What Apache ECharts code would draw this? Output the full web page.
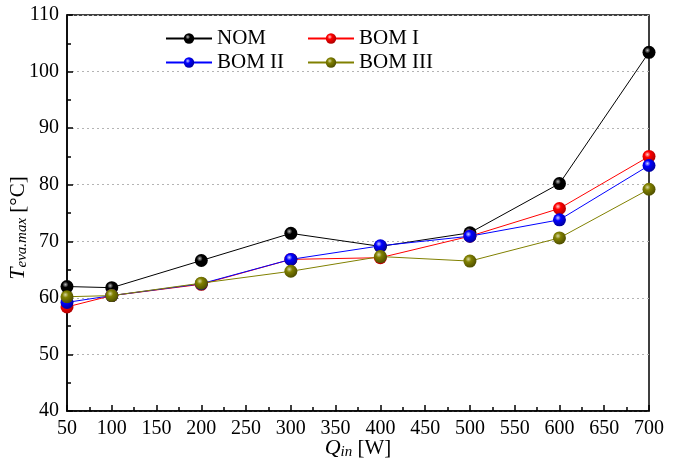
<!DOCTYPE html>
<html>
<head>
<meta charset="utf-8">
<script src="https://cdn.jsdelivr.net/npm/echarts@6/dist/echarts.min.js"></script>
<style>
  html, body { margin: 0; padding: 0; background: #fff; }
  #chart { width: 680px; height: 462px; }
</style>
</head>
<body>
<div id="chart"></div>
<script>
// Teva,max vs Qin
var qin = [50, 100, 200, 300, 400, 500, 600, 700];
var nom = [62.0, 61.8, 66.6, 71.4, 69.1, 71.5, 80.2, 103.4];
var bom1 = [58.4, 60.4, 62.4, 66.8, 67.1, 70.9, 75.8, 85.0];
var bom2 = [59.2, 60.4, 62.5, 66.8, 69.2, 70.9, 73.8, 83.4];
var bom3 = [60.2, 60.4, 62.6, 64.7, 67.3, 66.5, 70.6, 79.2];

var chart = echarts.init(document.getElementById('chart'));
var serif = 'Liberation Serif';

function ball(c, hi, dark) {
  return {
    type: 'radial', x: 0.38, y: 0.35, r: 0.65,
    colorStops: [
      {offset: 0, color: hi},
      {offset: 0.35, color: c},
      {offset: 1, color: dark}
    ]
  };
}

function line(name, data, color, hi, dark) {
  return {
    name: name,
    type: 'line',
    data: qin.map(function (q, i) { return [q, data[i]]; }),
    symbol: 'circle',
    symbolSize: 13,
    lineStyle: {color: color, width: 1},
    itemStyle: {color: ball(color, hi, dark), borderWidth: 0},
    emphasis: {disabled: true}
  };
}

var legendBase = {
  orient: 'vertical',
  top: 23,
  itemWidth: 46,
  itemHeight: 13,
  itemGap: 3,
  textStyle: {fontFamily: serif, fontSize: 21, color: '#000'}
};

var rich = {
  i: {fontFamily: serif, fontSize: 22, fontStyle: 'italic', color: '#000'},
  s: {fontFamily: serif, fontSize: 15, fontStyle: 'italic', color: '#000', padding: [8, 0, 0, 0]},
  n: {fontFamily: serif, fontSize: 21, color: '#000'}
};

chart.setOption({
  animation: false,
  grid: {left: 67, right: 31, top: 15, bottom: 51, outerBoundsMode: 'none', containLabel: false,
    show: true, borderColor: '#000', borderWidth: 1.5},
  legend: [
    Object.assign({left: 160, data: ['NOM', 'BOM II']}, legendBase),
    Object.assign({left: 302, data: ['BOM I', 'BOM III']}, legendBase)
  ],
  xAxis: {
    type: 'value', min: 50, max: 700, interval: 50,
    name: '{i|Q}{s|in}{n| [W]}',
    nameLocation: 'middle', nameGap: 26, nameMoveOverlap: false,
    nameTextStyle: {rich: rich},
    axisLine: {lineStyle: {color: '#000', width: 1.5}},
    axisTick: {inside: true, length: 6, lineStyle: {color: '#000', width: 1.5}},
    minorTick: {show: true, splitNumber: 2, length: 4, lineStyle: {color: '#000', width: 1.5}},
    axisLabel: {fontFamily: serif, fontSize: 20, color: '#000', margin: 8},
    splitLine: {show: false}
  },
  yAxis: {
    type: 'value', min: 40, max: 110, interval: 10,
    name: '{i|T}{s|eva.max}{n| [°C]}',
    nameLocation: 'middle', nameGap: 37, nameRotate: 90, nameMoveOverlap: false,
    nameTextStyle: {rich: rich, padding: [0, 30, 0, 0]},
    axisLine: {lineStyle: {color: '#000', width: 1.5}},
    axisTick: {inside: true, length: 6, lineStyle: {color: '#000', width: 1.5}},
    minorTick: {show: true, splitNumber: 2, length: 4, lineStyle: {color: '#000', width: 1.5}},
    axisLabel: {fontFamily: serif, fontSize: 20, color: '#000', margin: 8},
    splitLine: {show: true, lineStyle: {color: '#b4b4b4', type: [2, 3], width: 1}}
  },
  series: [
    line('NOM', nom, '#000', '#bbb', '#000'),
    line('BOM I', bom1, '#ff0000', '#ffcccc', '#b00000'),
    line('BOM II', bom2, '#0000ff', '#ccccff', '#0000a0'),
    line('BOM III', bom3, '#808000', '#d8d8a0', '#505000')
  ]
});
</script>
</body>
</html>
